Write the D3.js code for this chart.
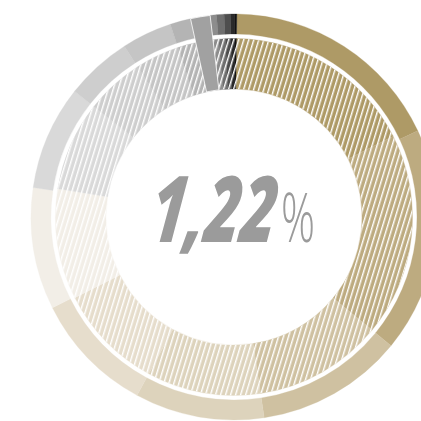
<!DOCTYPE html>
<html>
<head>
<meta charset="utf-8">
<script src="https://cdn.jsdelivr.net/npm/d3@7"></script>
<style>
html,body{margin:0;padding:0;background:#fff;}
svg{display:block;}
</style>
</head>
<body>
<svg id="chart" width="421" height="421"></svg>
<script>
// Data (shares of the circle, %)
const categories = ["A1","A2","A3","A4","A5","A6","B1","B2","B3","B4","B5","C1","C2","C3","C4","C5"];
const outerValues = [17.8,17.9,11.7,10.3,9.7,9.7,8.3,5.3,4.0,1.8,1.4,0.5,0.6,0.5,0.3,0.2];
const innerValues = [17.3,18.4,11.7,10.3,9.6,10.0,8.1,5.3,4.0,1.8,1.4,0.5,0.6,0.5,0.3,0.2];
const colors = ["#ae9a66","#bdab80","#cfc1a1","#ddd3bc","#e6ddcc","#f2eee7",
                "#d9d9d9","#cecece","#c5c5c5","#b4b4b4","#a1a1a1",
                "#8d8d8d","#6f6f6f","#4e4e4e","#2b2b2b","#121212"];
const highlight = "B5";
const valueLabel = "1,22";
const unitLabel = "%";

const svg = d3.select("#chart");
const cx = 234, cy = 217;
const R = 203, r1 = 183, r2 = 178.5, r3 = 128;
const start = 0.8 * Math.PI / 180;

const color = d3.scaleOrdinal().domain(categories).range(colors);

const defs = svg.append("defs");
const pat = defs.append("pattern")
  .attr("id","hatch")
  .attr("patternUnits","userSpaceOnUse")
  .attr("width",4.8).attr("height",4.8)
  .attr("patternTransform","rotate(17)");
pat.append("rect").attr("x",0).attr("y",0).attr("width",1.4).attr("height",4.8).attr("fill","#fff");

const g = svg.append("g").attr("transform",`translate(${cx},${cy})`);

const pie = d3.pie().sort(null).value(d => d.v).startAngle(start).endAngle(start + 2*Math.PI);
const outerData = pie(categories.map((c,i)=>({c, v: outerValues[i]})));
const innerData = pie(categories.map((c,i)=>({c, v: innerValues[i]})));

const arcOuter = d3.arc().innerRadius(r1).outerRadius(R);
const arcInner = d3.arc().innerRadius(r3).outerRadius(r2);

g.append("g").selectAll("path").data(outerData).join("path")
  .attr("d", arcOuter).attr("fill", d => color(d.data.c))
  .attr("stroke", d => color(d.data.c)).attr("stroke-width", 0.3);

g.append("g").selectAll("path").data(innerData).join("path")
  .attr("d", arcInner).attr("fill", d => color(d.data.c))
  .attr("stroke", d => color(d.data.c)).attr("stroke-width", 0.3);

// hatch overlay on inner ring
g.append("path")
  .attr("d", d3.arc().innerRadius(r3).outerRadius(r2).startAngle(0).endAngle(2*Math.PI)())
  .attr("fill","url(#hatch)");

// highlighted wedge spanning both rings
const hi = outerData.find(d => d.data.c === highlight);
const hiIn = innerData.find(d => d.data.c === highlight);
g.append("path")
  .attr("d", d3.arc().innerRadius(r3).outerRadius(R)
    .startAngle((hi.startAngle + hiIn.startAngle)/2 - 0.01)
    .endAngle((hi.endAngle + hiIn.endAngle)/2)())
  .attr("fill", color(highlight))
  .attr("stroke","#fff").attr("stroke-width",0.8);

// centre label
svg.append("text")
  .attr("x",148).attr("y",242)
  .attr("transform","translate(0,242) skewX(-7) translate(0,-242)")
  .attr("font-family","'Open Sans', sans-serif")
  .attr("font-weight",800).attr("font-style","italic")
  .attr("font-size",92).attr("fill","#9b9b9b")
  .attr("textLength",126).attr("lengthAdjust","spacingAndGlyphs")
  .text(valueLabel);
svg.append("text")
  .attr("x",281).attr("y",242)
  .attr("font-family","'Open Sans', sans-serif")
  .attr("font-weight",300)
  .attr("font-size",68).attr("fill","#9b9b9b")
  .attr("textLength",34).attr("lengthAdjust","spacingAndGlyphs")
  .text(unitLabel);
</script>
</body>
</html>
